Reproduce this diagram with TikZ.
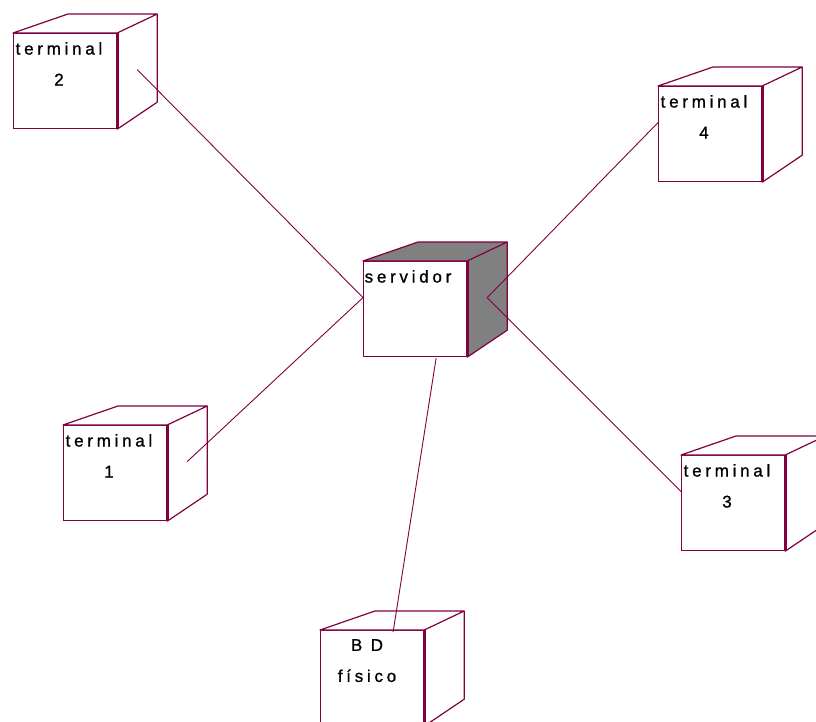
\documentclass[tikz,border=0pt]{standalone}
\usepackage{fontspec}
\newfontfamily\rosefont[LetterSpace=22, FakeBold=1]{Liberation Sans}
\definecolor{rosered}{HTML}{800040}
\definecolor{rosegray}{HTML}{808080}
\usetikzlibrary{calc, positioning}
\tikzset{
	frontbox/.style={draw=rosered, line width=1.2pt, fill=white, minimum width=103pt, minimum height=95pt, inner sep=0pt, anchor=north west}
}
\tikzset{
	nodetext/.style={font=\rosefont\fontsize{17}{31}\selectfont, align=center, inner sep=0pt, anchor=north}
}
\tikzset{
	linkline/.style={rosered, line width=0.9pt}
}
\tikzset{
	backfill/.store in=\backfillcolor, backfill=white,
	nodeback/.pic={
			\draw[rosered, line width=1.2pt, fill=\backfillcolor, line join=round]
			(#1.north west) --
			++(55,-19) --
			($(#1.north east)+(40,-19)$) --
			(#1.north east) --
			cycle
			($(#1.north east)+(40,-19)$) --
			($(#1.south east)+(40,-27)$) --
			(#1.south east) --
			(#1.north east);
			\draw[rosered, line width=2.6pt] (#1.north east) -- (#1.south east);
			\coordinate (#1-r) at ($(#1.east)+(20,-11.5)$);
			\coordinate (#1-l) at ($(#1.west)+(0,-11.5)$);
		}
}

\begin{document}
\begin{tikzpicture}[x=1pt, y=-1pt]

			\useasboundingbox (0,0) rectangle (816,722);

			\begin{scope}
				\node[frontbox] (srv) at (363,261) {};
				\node[frontbox] (t1) at (63,425) {};
				\node[frontbox] (t2) at (13,33) {};
				\node[frontbox] (t3) at (681,455) {};
				\node[frontbox] (t4) at (658,86) {};
				\node[frontbox] (bd) at (320,630) {};

				\pic[backfill=rosegray] {nodeback=srv};
				\pic {nodeback=t1};
				\pic {nodeback=t2};
				\pic {nodeback=t3};
				\pic {nodeback=t4};
				\pic {nodeback=bd};
			\end{scope}

			\node[nodetext] (srvtxt) at ($(srv.north west)+(45,9)$) {servidor};
			\node[nodetext] (t1txt) at ($(t1.north west)+(46,9)$) {terminal\\1};
			\node[nodetext] (t2txt) at ($(t2.north west)+(46,9)$) {terminal\\2};
			\node[nodetext] (t3txt) at ($(t3.north west)+(46,9)$) {terminal\\3};
			\node[nodetext] (t4txt) at ($(t4.north west)+(46,9)$) {terminal\\4};
			\node[nodetext] (bdtxt) at ($(bd.north west)+(47,9)$) {B D\\físico};

			\draw[linkline] (srv-l) -- (t2-r);
			\draw[linkline] (srv-l) -- (t1-r);
			\draw[linkline] (srv-r) -- (t4-l);
			\draw[linkline] (srv-r) -- (t3-l);
			\draw[linkline] ($(srv.south)+(21,1)$) -- ($(bd.north)+(21,2)$);

		\end{tikzpicture}
\end{document}
